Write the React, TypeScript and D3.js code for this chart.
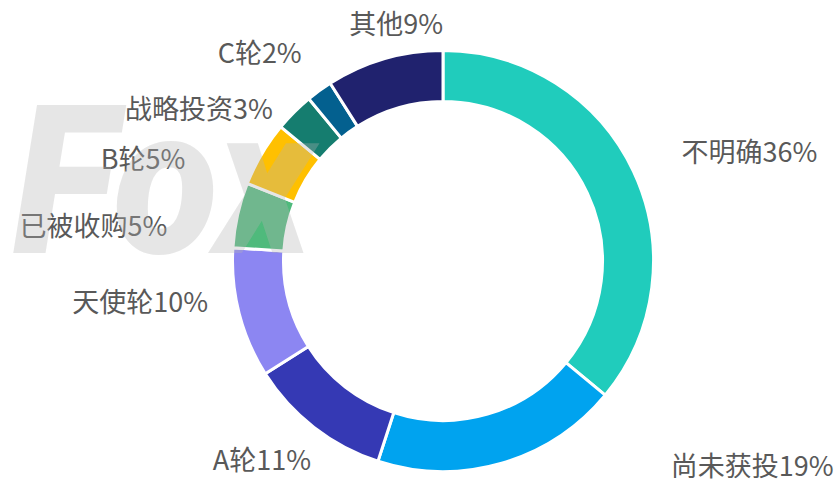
import React from "react";
import * as d3 from "d3";

const categories = ["不明确", "尚未获投", "A轮", "天使轮", "已被收购", "B轮", "战略投资", "C轮", "其他"];
const values = [36, 19, 11, 10, 5, 5, 3, 2, 9];
const colors = ["#20CCBC", "#00A3EF", "#3539B4", "#8C86F2", "#4FBA7C", "#FFC000", "#157D6F", "#03608F", "#20226E"];
// label nudges relative to the outside anchor point (px)
const labelNudge: [number, number][] = [
  [35, -15], [165, -13], [6, 20], [-17, -16], [-56, 13], [-64, 11], [-11, 6], [-9, -27], [63, -22],
];

const W = 839;
const H = 482;
const cx = 443;
const cy = 261;
const outerR = 210.5;
const innerR = 159.5;
const labelR = 225;

export default function App() {
  const pie = d3.pie<number>().sort(null).value((d) => d);
  const arcs = pie(values);
  const arc = d3.arc<d3.PieArcDatum<number>>().innerRadius(innerR).outerRadius(outerR);

  return (
    <svg
      width={W}
      height={H}
      style={{ position: "absolute", left: 0, top: 0, background: "#fff" }}
      fontFamily="'Noto Sans CJK SC', 'Noto Sans', sans-serif"
    >
      <rect width={W} height={H} fill="#fff" />
      <g transform={`translate(${cx},${cy})`}>
        {arcs.map((a, i) => (
          <path key={i} d={arc(a) || ""} fill={colors[i]} stroke="#fff" strokeWidth={3} />
        ))}
      </g>
      {arcs.map((a, i) => {
        const mid = (a.startAngle + a.endAngle) / 2;
        const x = cx + labelR * Math.sin(mid) + labelNudge[i][0];
        const y = cy - labelR * Math.cos(mid) + labelNudge[i][1];
        const right = Math.sin(mid) > 0;
        return (
          <text
            key={i}
            x={x}
            y={y}
            fontSize={27}
            fill="#595959"
            textAnchor={right ? "start" : "end"}
            dominantBaseline="central"
          >
            {categories[i] + values[i] + "%"}
          </text>
        );
      })}
      <text
        x={13}
        y={253}
        fontFamily="Roboto, 'Open Sans', sans-serif"
        fontWeight={900}
        fontStyle="italic"
        fontSize={208}
        textLength={300}
        lengthAdjust="spacingAndGlyphs"
        fill="rgb(178,178,178)"
        fillOpacity={0.33}
      >
        Fox
      </text>
    </svg>
  );
}
